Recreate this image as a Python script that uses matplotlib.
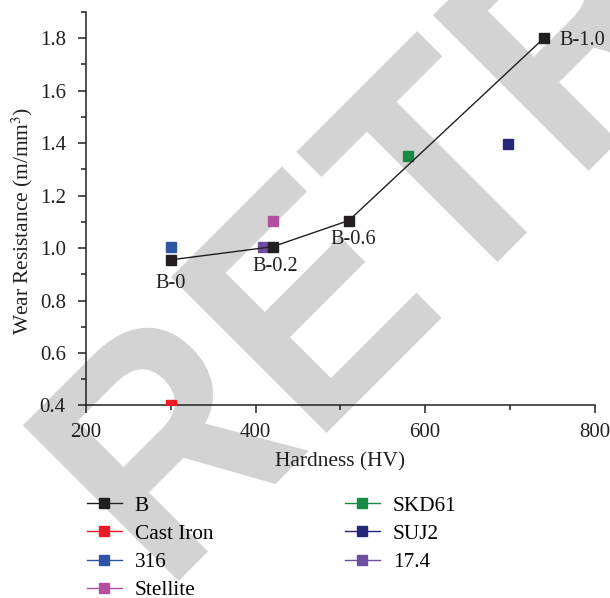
import matplotlib
matplotlib.use("Agg")
import matplotlib.pyplot as plt
from matplotlib.ticker import MultipleLocator
from matplotlib.textpath import TextPath
from matplotlib.patches import PathPatch
from matplotlib.font_manager import FontProperties
from matplotlib.transforms import Affine2D

plt.rcParams['font.family'] = ['Liberation Serif', 'DejaVu Serif']
plt.rcParams['mathtext.fontset'] = 'stix'

# Boron series (hardness HV, wear resistance m/mm^3)
b_hv = [300, 420, 510, 740]
b_wr = [0.955, 1.005, 1.105, 1.80]
b_labels = ['B-0', 'B-0.2', 'B-0.6', 'B-1.0']

# reference materials
ref_names = ['Cast Iron', '316', 'Stellite', 'SKD61', 'SUJ2', '17.4']
ref_hv = [300, 300, 420, 580, 698, 409]
ref_wr = [0.40, 1.005, 1.105, 1.352, 1.398, 1.005]
ref_colors = ['#ed1c24', '#2e55a5', '#b44fa0', '#178a45', '#25287a', '#6c4fa0']

fig = plt.figure(figsize=(6.1, 5.98), dpi=100)

# retraction watermark behind the chart (slightly condensed bold sans)
wm = TextPath((0, 0), 'RETRACTED', size=1,
              prop=FontProperties(family='Liberation Sans', weight='bold'))
wm_tr = Affine2D().scale(290, 320).rotate_deg(45).translate(164.8, 3.3)
fig.add_artist(PathPatch(wm_tr.transform_path(wm), facecolor='#d3d3d3',
                         edgecolor='none', transform=None, zorder=-1))

ax = fig.add_axes([0.141, 0.322, 0.834, 0.658])
ax.patch.set_alpha(0)

ax.plot(b_hv, b_wr, '-s', color='#231f20', lw=1.0, ms=6.5, label='B', zorder=4)
for name, x, y, c in zip(ref_names, ref_hv, ref_wr, ref_colors):
    ax.plot([x], [y], '-s', color=c, lw=1.0, ms=6.5, label=name, zorder=3)

offsets = [(0, -17), (2, -14), (3, -14), (11, -2)]
aligns = ['center', 'center', 'center', 'left']
for x, y, t, off, ha in zip(b_hv, b_wr, b_labels, offsets, aligns):
    ax.annotate(t, (x, y), xytext=off, textcoords='offset points',
                ha=ha, va='center', fontsize=14.7, color='#231f20')

ax.set_xlim(200, 800)
ax.set_ylim(0.4, 1.9)
ax.xaxis.set_major_locator(MultipleLocator(200))
ax.xaxis.set_minor_locator(MultipleLocator(100))
ax.yaxis.set_major_locator(MultipleLocator(0.2))
ax.yaxis.set_minor_locator(MultipleLocator(0.1))
ax.yaxis.set_major_formatter(plt.FuncFormatter(lambda v, p: f'{v:.1f}'))

for s in ['top', 'right']:
    ax.spines[s].set_visible(False)
for s in ['left', 'bottom']:
    ax.spines[s].set_linewidth(1.1)
    ax.spines[s].set_color('#231f20')
ax.tick_params(which='major', direction='out', length=6, width=1.1,
               labelsize=15, colors='#231f20')
ax.tick_params(which='minor', direction='out', length=3.5, width=1.1,
               colors='#231f20')
ax.tick_params(axis='x', which='major', pad=6.5)
ax.tick_params(axis='y', which='major', pad=8.5)

ax.set_xlabel('Hardness (HV)', fontsize=15.4, color='#231f20')
ax.set_ylabel('Wear Resistance (m/mm$^3$)', fontsize=15.4, color='#231f20')
ax.xaxis.set_label_coords(0.5, -0.12)
ax.yaxis.set_label_coords(-0.100, 0.4685)

ax.legend(loc='upper left', bbox_to_anchor=(-0.015, -0.208), ncol=2,
          frameon=False, fontsize=15.3, handlelength=1.65, handletextpad=0.6,
          labelspacing=0.39, columnspacing=6.2, borderaxespad=0)

fig.savefig('out.png', dpi=100)
